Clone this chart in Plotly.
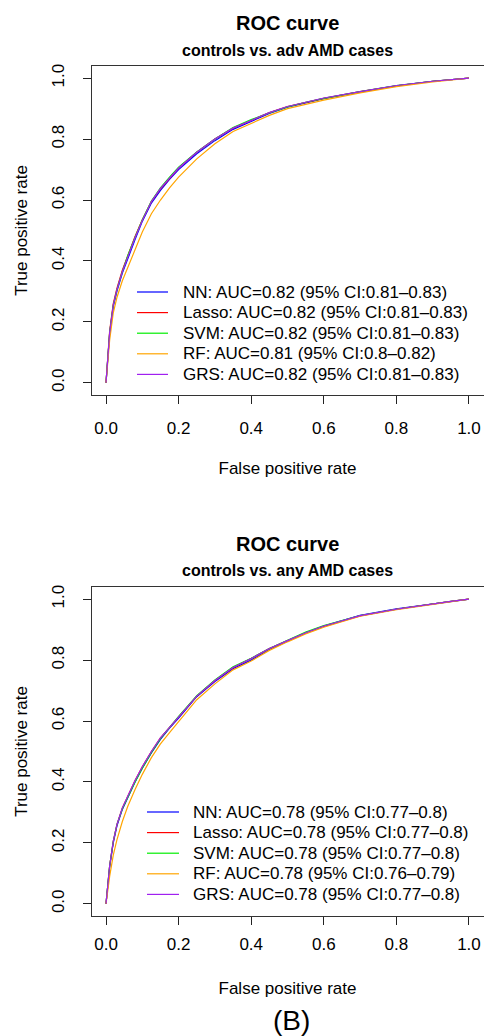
import plotly.graph_objects as go

# ---------------- data ----------------
models = ["NN", "Lasso", "SVM", "RF", "GRS"]
colors = ["#0000FF", "#FF0000", "#00EE00", "#FFA500", "#A020F0"]

fpr = [0, 0.005, 0.01, 0.02, 0.03, 0.045, 0.06, 0.08, 0.1, 0.125, 0.15, 0.175,
       0.2, 0.25, 0.3, 0.35, 0.4, 0.45, 0.5, 0.55, 0.6, 0.7, 0.8, 0.9, 0.95, 1.0]

# controls vs. adv AMD cases
adv_nn = [0, 0.09, 0.16, 0.25, 0.30, 0.36, 0.41, 0.47, 0.53, 0.59, 0.632, 0.668,
          0.70, 0.752, 0.795, 0.832, 0.858, 0.884, 0.905, 0.92, 0.933, 0.955, 0.975, 0.99, 0.996, 1.0]
adv_lasso = [0, 0.09, 0.17, 0.26, 0.31, 0.37, 0.42, 0.48, 0.535, 0.595, 0.637, 0.672,
             0.705, 0.757, 0.80, 0.836, 0.862, 0.887, 0.907, 0.921, 0.934, 0.956, 0.975, 0.99, 0.996, 1.0]
adv_svm = [0, 0.09, 0.165, 0.255, 0.305, 0.365, 0.418, 0.478, 0.535, 0.597, 0.64, 0.675,
           0.708, 0.758, 0.80, 0.838, 0.864, 0.886, 0.906, 0.921, 0.934, 0.956, 0.976, 0.99, 0.996, 1.0]
adv_rf = [0, 0.07, 0.14, 0.23, 0.28, 0.335, 0.38, 0.44, 0.495, 0.555, 0.60, 0.64,
          0.675, 0.735, 0.785, 0.825, 0.852, 0.878, 0.90, 0.915, 0.928, 0.952, 0.972, 0.988, 0.995, 1.0]
adv_grs = [0, 0.09, 0.165, 0.255, 0.305, 0.365, 0.415, 0.476, 0.533, 0.595, 0.638, 0.673,
           0.705, 0.757, 0.80, 0.836, 0.862, 0.887, 0.907, 0.922, 0.935, 0.956, 0.976, 0.99, 0.996, 1.0]

# controls vs. any AMD cases
any_nn = [0, 0.07, 0.12, 0.20, 0.255, 0.31, 0.35, 0.40, 0.445, 0.495, 0.54, 0.577,
          0.61, 0.68, 0.73, 0.772, 0.80, 0.835, 0.862, 0.89, 0.912, 0.947, 0.968, 0.985, 0.993, 1.0]
any_lasso = [0, 0.07, 0.125, 0.205, 0.26, 0.315, 0.355, 0.405, 0.45, 0.50, 0.545, 0.58,
             0.613, 0.682, 0.733, 0.776, 0.805, 0.838, 0.864, 0.89, 0.911, 0.945, 0.967, 0.985, 0.993, 1.0]
any_svm = [0, 0.07, 0.125, 0.205, 0.26, 0.312, 0.35, 0.40, 0.445, 0.497, 0.542, 0.58,
           0.615, 0.683, 0.735, 0.778, 0.806, 0.838, 0.865, 0.892, 0.913, 0.946, 0.967, 0.985, 0.993, 1.0]
any_rf = [0, 0.05, 0.09, 0.16, 0.21, 0.27, 0.32, 0.375, 0.425, 0.48, 0.525, 0.562,
          0.598, 0.67, 0.722, 0.768, 0.797, 0.832, 0.86, 0.886, 0.908, 0.944, 0.966, 0.984, 0.992, 1.0]
any_grs = [0, 0.07, 0.125, 0.205, 0.26, 0.315, 0.355, 0.405, 0.45, 0.50, 0.545, 0.58,
           0.613, 0.682, 0.733, 0.776, 0.805, 0.838, 0.864, 0.89, 0.912, 0.946, 0.967, 0.985, 0.993, 1.0]

adv_labels = ["NN: AUC=0.82 (95% CI:0.81–0.83)",
              "Lasso: AUC=0.82 (95% CI:0.81–0.83)",
              "SVM: AUC=0.82 (95% CI:0.81–0.83)",
              "RF: AUC=0.81 (95% CI:0.8–0.82)",
              "GRS: AUC=0.82 (95% CI:0.81–0.83)"]
any_labels = ["NN: AUC=0.78 (95% CI:0.77–0.8)",
              "Lasso: AUC=0.78 (95% CI:0.77–0.8)",
              "SVM: AUC=0.78 (95% CI:0.77–0.8)",
              "RF: AUC=0.78 (95% CI:0.76–0.79)",
              "GRS: AUC=0.78 (95% CI:0.77–0.8)"]

tick_vals = [0, 0.2, 0.4, 0.6, 0.8, 1.0]
tick_text = ["0.0", "0.2", "0.4", "0.6", "0.8", "1.0"]

title_main = "ROC curve"
sub_adv = "controls vs. adv AMD cases"
sub_any = "controls vs. any AMD cases"
x_title = "False positive rate"
y_title = "True positive rate"
panel_tag = "(B)"

# ---------------- figure ----------------
W, H = 484, 1036
FONT = "Liberation Sans, Arial, Helvetica, sans-serif"


def px(v):
    return v / W


def py(v):
    return 1 - v / H


fig = go.Figure()
adv_series = [adv_nn, adv_lasso, adv_svm, adv_rf, adv_grs]
any_series = [any_nn, any_lasso, any_svm, any_rf, any_grs]

for m, c, s, lab in zip(models, colors, adv_series, adv_labels):
    fig.add_trace(go.Scatter(x=fpr, y=s, mode="lines", name=lab,
                             line=dict(color=c, width=1.2), showlegend=False,
                             xaxis="x", yaxis="y"))
for m, c, s, lab in zip(models, colors, any_series, any_labels):
    fig.add_trace(go.Scatter(x=fpr, y=s, mode="lines", name=lab,
                             line=dict(color=c, width=1.2), showlegend=False,
                             xaxis="x2", yaxis="y2"))

axis_common = dict(range=[-0.04, 1.04], tickvals=tick_vals, ticktext=tick_text,
                   ticks="outside", ticklen=8, tickcolor="#222", tickwidth=1,
                   showline=True, mirror=True, linecolor="#333", linewidth=1,
                   showgrid=False, zeroline=False, automargin=False,
                   tickfont=dict(family=FONT, size=17, color="black"))

xdom = [91.5 / W, 483.5 / W]
fig.update_layout(
    width=W, height=H,
    margin=dict(l=0, r=0, t=0, b=0),
    paper_bgcolor="white", plot_bgcolor="white",
    font=dict(family=FONT, size=17, color="black"),
    showlegend=False,
    xaxis=dict(domain=xdom, anchor="y", ticklabelstandoff=10,
               title=dict(text=x_title, standoff=24, font=dict(size=17)), **axis_common),
    yaxis=dict(domain=[py(395), py(66)], anchor="x", tickangle=-90, ticklabelstandoff=12,
               title=dict(text=y_title, standoff=16, font=dict(size=17)), **axis_common),
    xaxis2=dict(domain=xdom, anchor="y2", ticklabelstandoff=5,
                title=dict(text=x_title, standoff=28, font=dict(size=17)), **axis_common),
    yaxis2=dict(domain=[py(916), py(587)], anchor="x2", tickangle=-90, ticklabelstandoff=12,
                title=dict(text=y_title, standoff=16, font=dict(size=17)), **axis_common),
)

annotations = []
shapes = []
cx = px(287.5)
for (ty, sy, sub) in [(23, 51, sub_adv), (544, 570, sub_any)]:
    annotations.append(dict(text="<b>" + title_main + "</b>", x=cx, y=py(ty), xref="paper", yref="paper",
                            showarrow=False, xanchor="center", yanchor="middle",
                            font=dict(family=FONT, size=20)))
    annotations.append(dict(text="<b>" + sub + "</b>", x=cx, y=py(sy), xref="paper", yref="paper",
                            showarrow=False, xanchor="center", yanchor="middle",
                            font=dict(family=FONT, size=16)))

# legends (bottom-right, no box, as in R)
for labels, x0, x1, xt, y0 in [(adv_labels, 137, 168, 183, 292), (any_labels, 147, 179, 193, 812)]:
    for i, (lab, c) in enumerate(zip(labels, colors)):
        yy = y0 + i * 20.6
        shapes.append(dict(type="line", xref="paper", yref="paper",
                           x0=px(x0), x1=px(x1), y0=py(yy), y1=py(yy),
                           line=dict(color=c, width=1.2)))
        annotations.append(dict(text=lab, x=px(xt), y=py(yy), xref="paper", yref="paper",
                                showarrow=False, xanchor="left", yanchor="middle",
                                xshift=-2, font=dict(family=FONT, size=17)))

annotations.append(dict(text=panel_tag, x=px(291), y=py(1020), xref="paper", yref="paper",
                        showarrow=False, xanchor="center", yanchor="middle",
                        font=dict(family=FONT, size=28)))

fig.update_layout(annotations=annotations, shapes=shapes)
fig.write_html("out.html",
               config={"displayModeBar": False, "staticPlot": True},
               post_script="document.body.style.margin='0';document.body.style.padding='0';"
                           "document.body.style.overflow='hidden';")
